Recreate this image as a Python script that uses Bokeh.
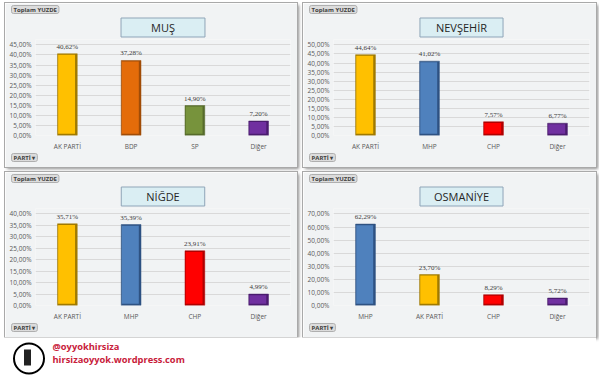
from bokeh.plotting import figure
from bokeh.models import (FactorRange, Range1d, FixedTicker, ColumnDataSource, LabelSet,
                          Label, Title, Spacer)
from bokeh.transform import dodge
from bokeh.layouts import row, column
from bokeh.embed import file_html
from bokeh.resources import INLINE

# ---------------- data ----------------
titles = ["MUŞ", "NEVŞEHİR", "NİĞDE", "OSMANİYE"]

mus_parties = ["AK PARTİ", "BDP", "SP", "Diğer"]
mus_values = [40.62, 37.28, 14.90, 7.20]

nevsehir_parties = ["AK PARTİ", "MHP", "CHP", "Diğer"]
nevsehir_values = [44.64, 41.02, 7.57, 6.77]

nigde_parties = ["AK PARTİ", "MHP", "CHP", "Diğer"]
nigde_values = [35.71, 35.39, 23.91, 4.99]

osmaniye_parties = ["MHP", "AK PARTİ", "CHP", "Diğer"]
osmaniye_values = [62.29, 23.70, 8.29, 5.72]

mus_ticks = [0, 5, 10, 15, 20, 25, 30, 35, 40, 45]
nevsehir_ticks = [0, 5, 10, 15, 20, 25, 30, 35, 40, 45, 50]
nigde_ticks = [0, 5, 10, 15, 20, 25, 30, 35, 40]
osmaniye_ticks = [0, 10, 20, 30, 40, 50, 60, 70]

party_fill = {"AK PARTİ": "#FFC000", "BDP": "#E46C0A", "SP": "#77933C",
              "MHP": "#4F81BD", "CHP": "#FF0000", "Diğer": "#7030A0"}
party_edge = {"AK PARTİ": "#A07A00", "BDP": "#A04C07", "SP": "#566B2B",
              "MHP": "#2E5282", "CHP": "#B00000", "Diğer": "#4A1C6E"}

FONT = "Open Sans"
BG = "#F1F3F4"
LEFT, RIGHT, TOP, BOTTOM = 30, 7, 35, 32
HEADROOM = 1.06
TITLE_SIZE = 11
CHAR_EM = {"M": .90, "U": .74, "Ş": .55, "S": .55, "N": .76, "E": .56, "V": .62,
           "H": .74, "İ": .28, "I": .28, "R": .62, "Ğ": .74, "D": .75, "O": .78,
           "A": .63, "Y": .58}


def fmt(v):
    return ("%.2f" % v).replace(".", ",") + "%"


def button(text, loc):
    return Title(text=text, align="left", offset=-24,
                 vertical_align="bottom" if loc == "above" else "top",
                 text_font_size="6px", text_font_style="bold", text_color="#404040",
                 text_font=FONT, background_fill_color="#DCDCDC",
                 border_line_color="#AFAFAF", padding=dict(left=2, right=2, top=0, bottom=0),
                 border_radius=2, standoff=0)


def panel(title, parties, values, ticks, w, h):
    ymax = ticks[-1]
    p = figure(width=w, height=h, x_range=FactorRange(*parties),
               y_range=Range1d(0, ymax * HEADROOM), output_backend="svg",
               toolbar_location=None, min_border_left=LEFT, min_border_right=RIGHT,
               min_border_top=TOP, min_border_bottom=BOTTOM)
    p.background_fill_color = BG
    p.border_fill_color = BG
    p.outline_line_color = None
    p.styles = {"outline": "1px solid #A9A9A9", "box-shadow": "2px 2px 3px rgba(0,0,0,0.45)"}
    p.x_range.range_padding = 0.0

    src = ColumnDataSource(dict(
        party=parties, value=values,
        inner_top=[v - ymax * 0.012 for v in values],
        label=[fmt(v) for v in values],
        fill=[party_fill[q] for q in parties],
        edge=[party_edge[q] for q in parties]))
    # bevelled bar: dark edge + lighter face
    p.vbar(x="party", top="value", width=0.31, source=src, fill_color="edge",
           line_color="edge", line_width=0.5)
    p.vbar(x=dodge("party", -0.012, range=p.x_range), top="inner_top", bottom=ymax * 0.018,
           width=0.265, source=src, fill_color="fill", line_color=None)

    labels = LabelSet(x="party", y="value", text="label", source=src, y_offset=3,
                      text_align="center", text_baseline="bottom",
                      text_font_size="7px", text_color="#404040", text_font=FONT)
    p.add_layout(labels)

    p.yaxis.ticker = FixedTicker(ticks=ticks)
    p.yaxis.major_label_overrides = {t: fmt(t) for t in ticks}
    for ax in (p.xaxis, p.yaxis):
        ax.axis_line_color = None
        ax.major_tick_line_color = None
        ax.minor_tick_line_color = None
        ax.major_tick_out = 0
        ax.major_tick_in = 0
        ax.minor_tick_out = 0
        ax.minor_tick_in = 0
        ax.major_label_text_font_size = "6.5px"
        ax.major_label_text_color = "#595959"
        ax.major_label_text_font = FONT
    p.yaxis.major_label_standoff = 4
    p.xaxis.major_label_standoff = 6
    p.xgrid.grid_line_color = None
    p.ygrid.grid_line_color = "#D9D9D9"

    # outer title slot: "Toplam YUZDE" button
    p.title = button("Toplam YUZDE", "above")
    # title box (closer to the frame)
    tw = sum(CHAR_EM.get(c, 0.6) for c in title) * TITLE_SIZE
    padx = int(round((84 - tw) / 2))
    p.add_layout(Title(text=title, align="center", offset=-12, text_font=FONT,
                       text_font_size="%dpx" % TITLE_SIZE, text_font_style="normal",
                       text_color="#262626", background_fill_color="#DAEEF3",
                       border_line_color="#8FA5B8",
                       padding=dict(left=padx, right=padx, top=2, bottom=2),
                       standoff=5), "above")
    p.add_layout(button("PARTİ ▾", "below"), "below")
    return p


p1 = panel(titles[0], mus_parties, mus_values, mus_ticks, 292, 164)
p2 = panel(titles[1], nevsehir_parties, nevsehir_values, nevsehir_ticks, 293, 164)
p3 = panel(titles[2], nigde_parties, nigde_values, nigde_ticks, 292, 165)
p4 = panel(titles[3], osmaniye_parties, osmaniye_values, osmaniye_ticks, 293, 165)

footer = figure(width=596, height=41, x_range=Range1d(0, 596), y_range=Range1d(0, 41),
                output_backend="svg", toolbar_location=None, min_border=0)
footer.axis.visible = False
footer.grid.visible = False
footer.outline_line_color = None
footer.circle(x=[28.5], y=[20], radius=15, fill_color="white", line_color="black", line_width=2)
footer.rect(x=[27], y=[21], width=7, height=16, fill_color="#222222", line_color=None)
footer.add_layout(Label(x=52, y=32, text="@oyyokhirsiza", text_baseline="middle",
                        text_font_size="9.3px", text_font_style="bold",
                        text_color="#C8203A", text_font=FONT))
footer.add_layout(Label(x=52, y=19.5, text="hirsizaoyyok.wordpress.com", text_baseline="middle",
                        text_font_size="9.3px", text_font_style="bold",
                        text_color="#C8203A", text_font=FONT))

grid = column(Spacer(height=3),
              row(Spacer(width=5), p1, Spacer(width=6), p2),
              Spacer(height=5),
              row(Spacer(width=5), p3, Spacer(width=6), p4),
              footer)

open("out.html", "w").write(file_html(grid, INLINE))
